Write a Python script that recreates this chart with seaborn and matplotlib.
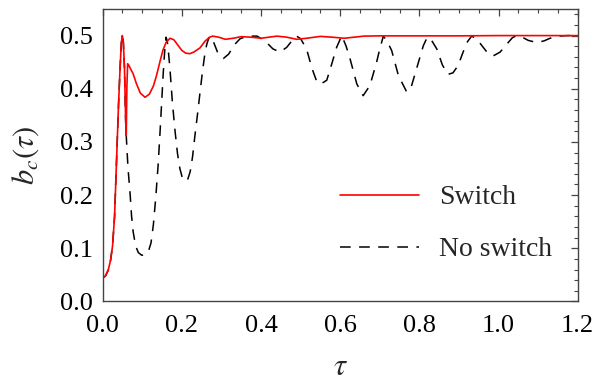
import matplotlib
matplotlib.use("Agg")
import matplotlib.pyplot as plt
import seaborn as sns
from matplotlib.ticker import MultipleLocator

sns.set_style("white")
plt.rcParams["font.family"] = ["Liberation Serif", "DejaVu Serif"]
plt.rcParams["mathtext.fontset"] = "stix"

# Switch curve (red)
tau_switch = [0.000, 0.007, 0.014, 0.020, 0.025, 0.030, 0.035, 0.040, 0.044, 0.047,
              0.0495, 0.052, 0.055, 0.058, 0.0595, 0.061, 0.063, 0.066, 0.070, 0.077,
              0.085, 0.095, 0.107, 0.118, 0.128, 0.136, 0.145, 0.152, 0.160, 0.170,
              0.180, 0.190, 0.200, 0.210, 0.220, 0.230, 0.246, 0.258, 0.270, 0.278,
              0.293, 0.310, 0.330, 0.350, 0.375, 0.400, 0.420, 0.440, 0.465, 0.490,
              0.515, 0.550, 0.580, 0.610, 0.635, 0.660, 0.700, 0.800, 0.900, 1.000,
              1.100, 1.200]
b_switch = [0.044, 0.048, 0.059, 0.078, 0.105, 0.160, 0.265, 0.370, 0.440, 0.485,
            0.500, 0.490, 0.440, 0.340, 0.312, 0.400, 0.447, 0.444, 0.438, 0.428,
            0.410, 0.392, 0.384, 0.390, 0.405, 0.425, 0.452, 0.472, 0.487, 0.495,
            0.492, 0.482, 0.472, 0.467, 0.466, 0.469, 0.477, 0.489, 0.497, 0.499,
            0.497, 0.493, 0.495, 0.498, 0.497, 0.495, 0.497, 0.499, 0.497, 0.493,
            0.495, 0.4985, 0.497, 0.495, 0.497, 0.499, 0.4995, 0.4995, 0.4995, 0.500,
            0.500, 0.500]

# No switch curve (black dashed)
tau_noswitch = [0.000, 0.007, 0.014, 0.020, 0.025, 0.030, 0.035, 0.040, 0.044, 0.047,
                0.0495, 0.052, 0.055, 0.058, 0.0595, 0.064, 0.069, 0.073, 0.077, 0.083,
                0.090, 0.0985, 0.107, 0.115, 0.122, 0.128, 0.134, 0.140, 0.145, 0.149,
                0.153, 0.157, 0.160, 0.163, 0.166, 0.170, 0.176, 0.183, 0.189, 0.195,
                0.201, 0.208, 0.215, 0.221, 0.227, 0.233, 0.240, 0.246, 0.252, 0.258,
                0.263, 0.268, 0.272, 0.280, 0.290, 0.305, 0.318, 0.333, 0.347, 0.365,
                0.390, 0.410, 0.430, 0.448, 0.465, 0.480, 0.490, 0.500, 0.515, 0.528,
                0.541, 0.551, 0.566, 0.578, 0.591, 0.604, 0.615, 0.625, 0.642, 0.658,
                0.675, 0.692, 0.700, 0.709, 0.718, 0.730, 0.747, 0.768, 0.780, 0.793,
                0.810, 0.820, 0.830, 0.844, 0.858, 0.872, 0.885, 0.898, 0.910, 0.920,
                0.932, 0.945, 0.958, 0.974, 0.987, 1.004, 1.021, 1.035, 1.046, 1.060,
                1.075, 1.096, 1.115, 1.130, 1.150, 1.175, 1.200]
b_noswitch = [0.044, 0.048, 0.059, 0.078, 0.105, 0.160, 0.265, 0.370, 0.440, 0.485,
              0.500, 0.490, 0.440, 0.340, 0.312, 0.250, 0.205, 0.160, 0.131, 0.105,
              0.092, 0.087, 0.088, 0.093, 0.110, 0.144, 0.195, 0.256, 0.320, 0.375,
              0.430, 0.475, 0.497, 0.490, 0.470, 0.437, 0.375, 0.319, 0.278, 0.250,
              0.233, 0.226, 0.230, 0.244, 0.272, 0.312, 0.355, 0.394, 0.432, 0.465,
              0.484, 0.495, 0.499, 0.488, 0.469, 0.457, 0.465, 0.483, 0.494, 0.499,
              0.499, 0.490, 0.475, 0.469, 0.478, 0.492, 0.499, 0.494, 0.475, 0.440,
              0.413, 0.409, 0.416, 0.445, 0.478, 0.500, 0.480, 0.456, 0.409, 0.387,
              0.406, 0.450, 0.475, 0.499, 0.490, 0.472, 0.425, 0.394, 0.405, 0.438,
              0.481, 0.497, 0.492, 0.475, 0.445, 0.427, 0.430, 0.444, 0.468, 0.487,
              0.499, 0.494, 0.481, 0.466, 0.462, 0.469, 0.484, 0.496, 0.500, 0.497,
              0.491, 0.487, 0.490, 0.495, 0.499, 0.500, 0.500]

fig = plt.figure(figsize=(5.96, 3.83), dpi=100)
ax = fig.add_axes([0.1723, 0.2128, 0.797, 0.7637])

sns.lineplot(x=tau_noswitch, y=b_noswitch, ax=ax, color="black", lw=1.1,
             linestyle=(0, (7, 5.5)), label="No switch", sort=False)
sns.lineplot(x=tau_switch, y=b_switch, ax=ax, color="red", lw=1.2,
             label="Switch", sort=False)

ax.set_xlim(0, 1.2)
ax.set_ylim(0, 0.55)
ax.xaxis.set_major_locator(MultipleLocator(0.2))
ax.xaxis.set_minor_locator(MultipleLocator(0.05))
ax.yaxis.set_major_locator(MultipleLocator(0.1))
ax.yaxis.set_minor_locator(MultipleLocator(0.02))
ax.xaxis.set_major_formatter(matplotlib.ticker.FormatStrFormatter("%.1f"))
ax.yaxis.set_major_formatter(matplotlib.ticker.FormatStrFormatter("%.1f"))

for s in ax.spines.values():
    s.set_color("#444444")
    s.set_linewidth(1.0)
ax.tick_params(which="both", direction="in", top=True, right=True, color="#444444",
               labelsize=19, labelcolor="black")
ax.tick_params(which="major", length=5, width=0.9)
ax.tick_params(which="minor", length=3, width=0.8)
ax.tick_params(axis="x", pad=10)
ax.tick_params(axis="y", pad=7)

ax.set_xlabel(r"$\tau$", fontsize=22, labelpad=11)
ax.set_ylabel(r"$b_c(\tau)$", fontsize=22, labelpad=14)

handles, labels = ax.get_legend_handles_labels()
ax.legend(handles[::-1], labels[::-1], loc="upper left", bbox_to_anchor=(340 / 596, 1 - 185 / 383),
          bbox_transform=fig.transFigure, frameon=False, fontsize=20,
          handlelength=2.85, handletextpad=0.72, labelspacing=0.95,
          borderpad=0, borderaxespad=0)

fig.savefig("out.png", dpi=100)
